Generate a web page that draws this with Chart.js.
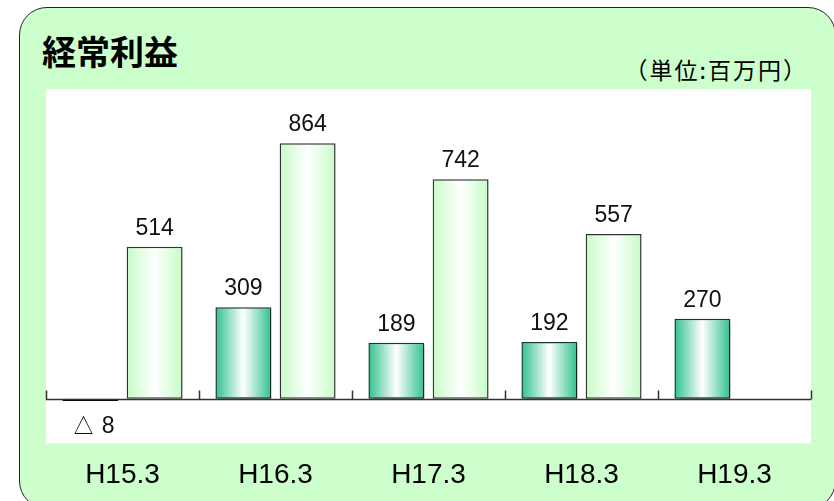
<!DOCTYPE html>
<html lang="ja">
<head>
<meta charset="utf-8">
<title>経常利益</title>
<script src="https://cdn.jsdelivr.net/npm/chart.js@4"></script>
<style>
	html, body { margin:0; padding:0; background:#fff; }
	#wrap { position:relative; width:834px; height:501px; overflow:hidden; }
	#panel {
		position:absolute; left:19px; top:7px; width:815px; height:500px;
		background:#ccffcc; border:1.5px solid #222; border-radius:28px;
	}
	#title {
		position:absolute; left:42px; top:33px; margin:0;
		font:bold 34px/36px "Noto Sans CJK JP", sans-serif; color:#000;
	}
	#unit {
		position:absolute; right:26px; top:56px;
		font:23px/27px "Noto Sans CJK JP", sans-serif; color:#000; letter-spacing:2px;
	}
	#chart { position:absolute; left:0; top:0; }
</style>
</head>
<body>
<div id="wrap">
	<div id="panel"></div>
	<h1 id="title">経常利益</h1>
	<div id="unit">（単位:百万円）</div>
	<canvas id="chart" width="834" height="518"></canvas>
</div>
<script>
(function(){
	// data (百万円)
	const categories = ['H15.3','H16.3','H17.3','H18.3','H19.3'];
	const interimValues = [-8, 309, 189, 192, 270];   // dark bars
	const fullYearValues = [514, 864, 742, 557, null]; // light bars

	// draw each bar with its own gradient: edge colour -> white centre -> edge colour
	const gradientPlugin = {
		id: 'barGradient',
		beforeDatasetDraw(chart, args){
			const ctx = chart.ctx;
			const dark = args.index === 0;
			const edge = dark ? '#2fc18c' : '#c6fcc6';
			ctx.save();
			if(dark){
				ctx.shadowColor = 'rgba(0,0,0,0.3)';
				ctx.shadowOffsetX = 2;
				ctx.shadowOffsetY = 2;
				ctx.shadowBlur = 1;
			}
			args.meta.data.forEach(el => {
				if(el.skip) return;
				const half = el.width / 2;
				const g = ctx.createLinearGradient(el.x - half, 0, el.x + half, 0);
				g.addColorStop(0, edge);
				g.addColorStop(0.5, '#ffffff');
				g.addColorStop(1, edge);
				el.options.backgroundColor = g;
				el.draw(ctx, chart.chartArea);
			});
			ctx.restore();
			return false;
		}
	};

	// white plot area
	const plotBg = {
		id: 'plotBg',
		beforeDraw(chart){
			const a = chart.chartArea;
			const ctx = chart.ctx;
			ctx.save();
			ctx.fillStyle = '#ffffff';
			ctx.fillRect(a.left, a.top, a.right - a.left, a.bottom - a.top);
			ctx.restore();
		}
	};

	// zero axis line + category boundary ticks + value labels
	const axisAndLabels = {
		id: 'axisAndLabels',
		afterDatasetsDraw(chart){
			const ctx = chart.ctx;
			const a = chart.chartArea;
			const x = chart.scales.x;
			const y = chart.scales.y;
			const y0 = Math.round(y.getPixelForValue(0)) + 0.5;
			const step = (a.right - a.left) / categories.length;

			ctx.save();
			ctx.strokeStyle = '#333';
			ctx.lineWidth = 1.5;
			ctx.beginPath();
			ctx.moveTo(a.left, y0);
			ctx.lineTo(a.right, y0);
			for(let i = 0; i <= categories.length; i++){
				const bx = Math.round(x.getPixelForValue(0) - step / 2 + i * step) + 0.5;
				ctx.moveTo(bx, y0);
				ctx.lineTo(bx, y0 - 9);
			}
			ctx.stroke();

			ctx.fillStyle = '#111';
			ctx.font = '23px "Liberation Sans", Arial, sans-serif';
			ctx.textAlign = 'center';
			chart.data.datasets.forEach((ds, di) => {
				const meta = chart.getDatasetMeta(di);
				meta.data.forEach((el, i) => {
					const v = ds.data[i];
					if(v === null || v === undefined) return;
					if(v < 0){
						ctx.textBaseline = 'middle';
						ctx.fillText('△ ' + Math.abs(v), el.x + 3, y0 + 27);
					}else{
						ctx.textBaseline = 'alphabetic';
						ctx.fillText(String(v), el.x, el.y - 12);
					}
				});
			});
			ctx.restore();
		}
	};

	new Chart(document.getElementById('chart'), {
		type: 'bar',
		data: {
			labels: categories,
			datasets: [
				{
					label: '中間',
					data: interimValues,
					borderColor: c => c.raw < 0 ? '#000' : '#16382a',
					borderWidth: c => c.raw < 0 ? 3 : 1.5,
					borderSkipped: false,
					categoryPercentage: 0.84,
					barPercentage: 0.87
				},
				{
					label: '通期',
					data: fullYearValues,
					borderColor: '#333',
					borderWidth: 1.5,
					borderSkipped: false,
					categoryPercentage: 0.84,
					barPercentage: 0.87
				}
			]
		},
		options: {
			responsive: false,
			animation: false,
			devicePixelRatio: 1,
			layout: { padding: { left: 46, right: 23, top: 89, bottom: 11 } },
			plugins: {
				legend: { display: false },
				tooltip: { enabled: false }
			},
			scales: {
				x: {
					grid: { display: false, drawTicks: false },
					border: { display: false },
					ticks: {
						color: '#000',
						padding: 15,
						font: { family: '"Liberation Sans", Arial, sans-serif', size: 28 }
					}
				},
				y: {
					display: false,
					min: -151,
					max: 1047
				}
			}
		},
		plugins: [plotBg, gradientPlugin, axisAndLabels]
	});
})();
</script>
</body>
</html>
